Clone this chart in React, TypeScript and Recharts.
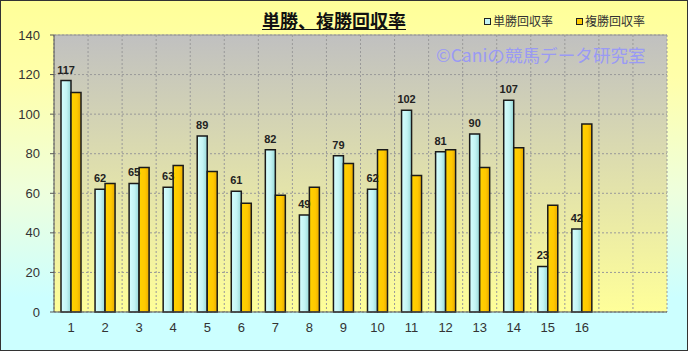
import React from "react";
import { BarChart, Bar, XAxis, YAxis, CartesianGrid, LabelList, ReferenceLine } from "recharts";

// 着順ごとの回収率 (末尾2枠は空)
const categories = ["1", "2", "3", "4", "5", "6", "7", "8", "9", "10", "11", "12", "13", "14", "15", "16", "", ""];
const tanshoRate = [117, 62, 65, 63, 89, 61, 82, 49, 79, 62, 102, 81, 90, 107, 23, 42, null, null];
const fukushoRate = [111, 65, 73, 74, 71, 55, 59, 63, 75, 82, 69, 82, 73, 83, 54, 95, null, null];
const yTicks = [0, 20, 40, 60, 80, 100, 120, 140];

const data = categories.map((c, i) => ({ name: c, tan: tanshoRate[i], fuku: fukushoRate[i] }));

const TICK = { fill: "#333", fontSize: 13, fontFamily: "Liberation Sans, Arial, sans-serif" };
const JP = "'Noto Sans CJK JP', sans-serif";

export default function App() {
  return (
    <div
      style={{
        position: "absolute", left: 0, top: 0, width: 688, height: 351, boxSizing: "border-box",
        border: "1px solid #333",
        background: "linear-gradient(to bottom, #ffff99 0%, #ffffaa 22%, #eeffdd 55%, #ccffff 85%, #ccffff 100%)",
      }}
    >
      <div style={{ position: "absolute", left: -1, top: -1 }}>
        <BarChart width={688} height={351} data={data} margin={{ top: 35, right: 21, left: 0, bottom: 0 }} barGap={0}>
          <defs>
            <linearGradient id="plotBg" x1="0" y1="0" x2="0" y2="1">
              <stop offset="0%" stopColor="#c0c0c0" />
              <stop offset="100%" stopColor="#ffff99" />
            </linearGradient>
            <linearGradient id="cyanBar" x1="0" y1="0" x2="1" y2="0">
              <stop offset="0%" stopColor="#d6ffff" />
              <stop offset="55%" stopColor="#c4f4f4" />
              <stop offset="100%" stopColor="#96d8d8" />
            </linearGradient>
            <linearGradient id="goldBar" x1="0" y1="0" x2="1" y2="0">
              <stop offset="0%" stopColor="#ffd200" />
              <stop offset="60%" stopColor="#ffc800" />
              <stop offset="100%" stopColor="#e8aa00" />
            </linearGradient>
          </defs>
          <CartesianGrid
            fill="url(#plotBg)"
            stroke="#999"
            strokeDasharray="2 2"
            verticalCoordinatesGenerator={({ offset }: any) =>
              Array.from({ length: categories.length + 1 }, (_, i) => offset.left + (i * offset.width) / categories.length)
            }
          />
          <XAxis dataKey="name" tick={TICK} tickLine={false} tickSize={0} tickMargin={11} height={39} axisLine={{ stroke: "#555" }} />
          <YAxis domain={[0, 140]} ticks={yTicks} tick={TICK} tickSize={4} tickMargin={10} width={54} axisLine={{ stroke: "#555" }} tickLine={{ stroke: "#555" }} />
          <YAxis yAxisId="r" orientation="right" width={0} tick={false} tickLine={false} axisLine={{ stroke: "#999" }} />
          <ReferenceLine y={140} stroke="#999" />
          <Bar dataKey="tan" name="単勝回収率" fill="url(#cyanBar)" stroke="#1a1a1a" strokeWidth={1.5} barSize={10} isAnimationActive={false}>
            <LabelList dataKey="tan" position="top" offset={7} fill="#222" fontSize={11} fontWeight="bold" fontFamily="Liberation Sans, Arial, sans-serif" />
          </Bar>
          <Bar dataKey="fuku" name="複勝回収率" fill="url(#goldBar)" stroke="#1a1a1a" strokeWidth={1.5} barSize={10} isAnimationActive={false} />
        </BarChart>
      </div>

      {/* title */}
      <div style={{ position: "absolute", left: 0, width: 666, top: 9, textAlign: "center", fontFamily: JP, fontWeight: "bold", fontSize: 18, lineHeight: "20px", color: "#111", textDecoration: "underline" }}>
        単勝、複勝回収率
      </div>

      {/* legend */}
      <div style={{ position: "absolute", left: 483, top: 12, display: "flex", fontFamily: JP, fontSize: 12, lineHeight: "16px", color: "#333" }}>
        {[["単勝回収率", "#c4f4f4"], ["複勝回収率", "#ffcc00"]].map(([t, c], i) => (
          <div key={i} style={{ display: "flex", alignItems: "center", marginRight: i === 0 ? 23 : 0 }}>
            <span style={{ width: 5, height: 5, border: "1.5px solid #222", background: c, marginRight: 2 }} />
            <span>{t}</span>
          </div>
        ))}
      </div>

      {/* watermark */}
      <div style={{ position: "absolute", left: 435, top: 44, fontFamily: JP, fontSize: 17.6, lineHeight: "20px", color: "#9a9af4", whiteSpace: "nowrap" }}>
        ©Caniの競馬データ研究室
      </div>
    </div>
  );
}
